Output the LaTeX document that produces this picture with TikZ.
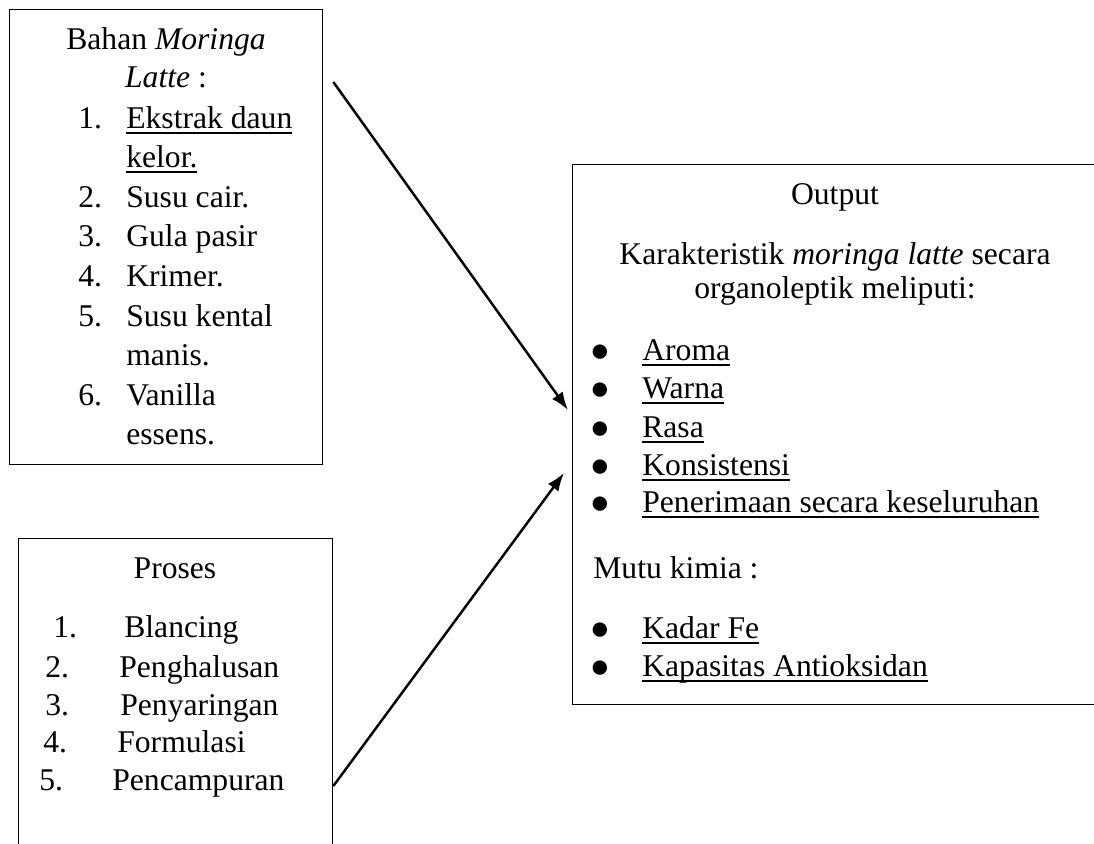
\documentclass[tikz,border=0pt]{standalone}
\usepackage{fontspec}
\setmainfont{Liberation Serif}
\usetikzlibrary{arrows.meta,positioning,calc}

\newcommand{\uln}[1]{\leavevmode\setbox0\hbox{#1}\rlap{\rule[-3.3pt]{\wd0}{1.1pt}}\box0}
\newcommand{\titik}{\raisebox{-0.6pt}{\fontsize{19}{19}\selectfont ●}}

\begin{document}
\begin{tikzpicture}[x=0.02cm, y=-0.02cm, >=Latex,
  font=\fontsize{18}{22}\selectfont,
  kotak/.style={draw, line width=0.8pt, inner sep=0pt, anchor=north west},
  teks/.style={inner sep=0pt, anchor=base west},
  tengah/.style={inner sep=0pt, anchor=base},
  panah/.style={->, line width=1.4pt, >={Latex[length=0.36cm,width=0.26cm]}}]

  \useasboundingbox (0,0) rectangle (1094,843);
  \clip (0,0) rectangle (1094,843);

  % boxes
  \node[kotak, minimum width=6.26cm, minimum height=9.1cm] (bahan) at (9,9) {};
  \node[kotak, minimum width=6.28cm, minimum height=6.6cm] (proses) at (18,538) {};
  \node[kotak, minimum width=10.52cm, minimum height=10.8cm] (output) at (572,164) {};

  % bahan moringa latte
  \node[tengah] (bjudul) at (166,49) {Bahan \textit{Moringa}};
  \node[tengah] (bjudul2) at (166,87) {\textit{Latte} :};
  \foreach \n/\t [count=\i] in {1./\uln{Ekstrak daun}, /\uln{kelor.}, 2./Susu cair.,
      3./Gula pasir, 4./Krimer., 5./Susu kental, /manis., 6./Vanilla, /essens.}
    \node[teks] (b\i) at (78,{128+39.6*(\i-1)}) {\makebox[0.96cm][l]{\n}\t};

  % proses
  \node[tengah] (pjudul) at (175,578) {Proses};
  \foreach \n/\nx/\t/\tx/\y [count=\i] in {1./53/Blancing/124/637, 2./45/Penghalusan/119/677,
      3./45/Penyaringan/120/715, 4./43/Formulasi/117/752, 5./39/Pencampuran/112/790} {
    \node[teks] (pn\i) at (\nx,\y) {\n};
    \node[teks] (pt\i) at (\tx,\y) {\t};
  }

  % output
  \node[tengah] (ojudul) at (835,204) {Output};
  \node[tengah] (okar) at (835,264) {Karakteristik \textit{moringa latte} secara};
  \node[tengah] (okar2) at (835,298) {organoleptik meliputi:};
  \foreach \t/\y [count=\i] in {Aroma/360, Warna/398, Rasa/437, Konsistensi/475,
      Penerimaan secara keseluruhan/512, Kadar Fe/638, Kapasitas Antioksidan/676} {
    \node[tengah] (ob\i) at (600,\y) {\titik};
    \node[teks] (ot\i) at (642,\y) {\uln{\t}};
  }
  \node[teks] (omutu) at (593,578) {Mutu kimia :};

  % arrows
  \draw[panah] ([shift={(10,73)}]bahan.north east) -- ([shift={(-4,246)}]output.north west);
  \draw[panah] ([shift={(0,248)}]proses.north east) -- ([shift={(-8,309)}]output.north west);
\end{tikzpicture}
\end{document}
